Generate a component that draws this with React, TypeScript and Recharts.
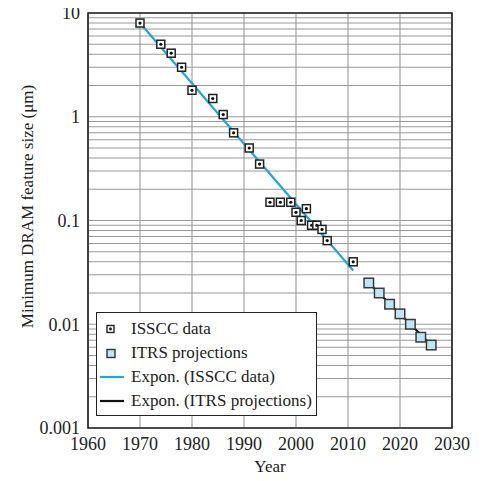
import React from 'react';
import {
  ComposedChart, Scatter, Line, XAxis, YAxis, CartesianGrid, ReferenceArea, Legend,
} from 'recharts';

// ---- data ----
const isscYears = [1970, 1974, 1976, 1978, 1980, 1984, 1986, 1988, 1991, 1993, 1995, 1997, 1999, 2000, 2001, 2002, 2003, 2004, 2005, 2006, 2011];
const isscValues = [8, 5, 4.1, 3, 1.8, 1.5, 1.05, 0.7, 0.5, 0.35, 0.15, 0.15, 0.15, 0.12, 0.1, 0.13, 0.09, 0.09, 0.082, 0.064, 0.04];

const itrsYears = [2014, 2016, 2018, 2020, 2022, 2024, 2026];
const itrsValues = [0.025, 0.02, 0.0156, 0.0126, 0.01, 0.0075, 0.0063];

const isscTrendYears = [1970, 2011];
const isscTrendValues = [8.0, 0.033];
const itrsTrendYears = [2014, 2026];
const itrsTrendValues = [0.025, 0.0063];

const xTicks = [1960, 1970, 1980, 1990, 2000, 2010, 2020, 2030];
const yMajorTicks = [0.001, 0.01, 0.1, 1, 10];
const yMinorMultipliers = [2, 3, 4, 5, 6, 7, 8, 9];

const legendLabels = ['ISSCC data', 'ITRS projections', 'Expon. (ISSCC data)', 'Expon. (ITRS projections)'];

// ---- derived tables ----
const toRows = (xs: number[], ys: number[]) => xs.map((x, i) => ({ year: x, v: ys[i] }));
const isscData = toRows(isscYears, isscValues);
const itrsData = toRows(itrsYears, itrsValues);
const isscTrend = toRows(isscTrendYears, isscTrendValues);
const itrsTrend = toRows(itrsTrendYears, itrsTrendValues);

const yAllTicks: number[] = [];
yMajorTicks.forEach((m, i) => {
  yAllTicks.push(m);
  if (i < yMajorTicks.length - 1) yMinorMultipliers.forEach((k) => yAllTicks.push(m * k));
});
const majorSet = new Set(yMajorTicks);

const FONT = '"Liberation Serif", "DejaVu Serif", "Noto Serif", serif';
const BLUE = '#1ea7e1';
const ITRS_FILL = '#bfe6f7';

const IsscMarker = (props: any) => {
  const { cx, cy } = props;
  if (cx == null || cy == null) return null;
  const s = 8;
  return (
    <g>
      <rect x={cx - s / 2} y={cy - s / 2} width={s} height={s} fill="#fff" stroke="#222" strokeWidth={1.5} />
      <circle cx={cx} cy={cy} r={1.6} fill="#111" />
    </g>
  );
};

const ItrsMarker = (props: any) => {
  const { cx, cy } = props;
  if (cx == null || cy == null) return null;
  const s = 9.5;
  return <rect x={cx - s / 2} y={cy - s / 2} width={s} height={s} fill={ITRS_FILL} stroke="#3a3a3a" strokeWidth={1.5} />;
};

const LegendContent = () => {
  const rowH = 24;
  return (
    <div
      style={{
        width: 221,
        height: 104,
        boxSizing: 'border-box',
        border: '1.5px solid #222',
        background: '#fff',
        fontFamily: FONT,
        fontSize: 17,
        color: '#222',
        paddingTop: 4,
      }}
    >
      {legendLabels.map((label, i) => (
        <div key={label} style={{ height: rowH, display: 'flex', alignItems: 'center' }}>
          <svg width={34} height={rowH} style={{ flex: 'none' }}>
            {i === 0 && (
              <g>
                <rect x={10} y={8.5} width={7} height={7} fill="#fff" stroke="#222" strokeWidth={1.4} />
                <circle cx={13.5} cy={12} r={1.4} fill="#111" />
              </g>
            )}
            {i === 1 && <rect x={10} y={8.5} width={8} height={8} fill={ITRS_FILL} stroke="#333" strokeWidth={1.4} />}
            {i === 2 && <line x1={3} x2={27} y1={12} y2={12} stroke={BLUE} strokeWidth={2.2} />}
            {i === 3 && <line x1={3} x2={27} y1={12} y2={12} stroke="#111" strokeWidth={2.2} />}
          </svg>
          <span style={{ whiteSpace: 'nowrap' }}>{label}</span>
        </div>
      ))}
    </div>
  );
};

const YLabel = (props: any) => {
  const { viewBox } = props;
  const x = 27;
  const y = viewBox.y + viewBox.height / 2 - 14;
  return (
    <text x={x} y={y} transform={`rotate(-90, ${x}, ${y})`} textAnchor="middle" dominantBaseline="central"
      fontFamily={FONT} fontSize={17} fill="#222">
      Minimum DRAM feature size (μm)
    </text>
  );
};

export default function App() {
  return (
    <div style={{ margin: -8 }}>
      <ComposedChart width={485} height={481} margin={{ top: 13, right: 33, left: 0, bottom: 0 }}>
        <CartesianGrid stroke="#9a9a9a" strokeWidth={1.1} />
        <XAxis
          dataKey="year"
          type="number"
          domain={[1960, 2030]}
          ticks={xTicks}
          allowDataOverflow
          tickLine={false}
          axisLine={false}
          height={53}
          tick={{ fontFamily: FONT, fontSize: 18, fill: '#222' }}
          tickMargin={3}
          label={{ value: 'Year', position: 'insideBottom', offset: 9, style: { fontFamily: FONT, fontSize: 17, fill: '#222' } }}
        />
        <YAxis
          dataKey="v"
          type="number"
          scale="log"
          domain={[0.001, 10]}
          ticks={yAllTicks}
          allowDataOverflow
          interval={0}
          tickLine={false}
          axisLine={false}
          width={88}
          tick={{ fontFamily: FONT, fontSize: 18, fill: '#222' }}
          tickFormatter={(v: number) => (majorSet.has(v) ? String(v) : '')}
          label={<YLabel />}
        />
        <ReferenceArea x1={1960} x2={2030} y1={0.001} y2={10} fill="none" stroke="#222" strokeWidth={1.6} />
        <Line data={isscTrend} dataKey="v" stroke={BLUE} strokeWidth={2.2} dot={false} isAnimationActive={false} legendType="none" />
        <Line data={itrsTrend} dataKey="v" stroke="#111" strokeWidth={2} dot={false} isAnimationActive={false} legendType="none" />
        <Scatter data={isscData} dataKey="v" shape={<IsscMarker />} isAnimationActive={false} />
        <Scatter data={itrsData} dataKey="v" shape={<ItrsMarker />} isAnimationActive={false} />
        <Legend
          layout="vertical"
          align="center"
          verticalAlign="middle"
          content={<LegendContent />}
          wrapperStyle={{ left: 96, top: 312, width: 221, height: 104 }}
        />
      </ComposedChart>
    </div>
  );
}
